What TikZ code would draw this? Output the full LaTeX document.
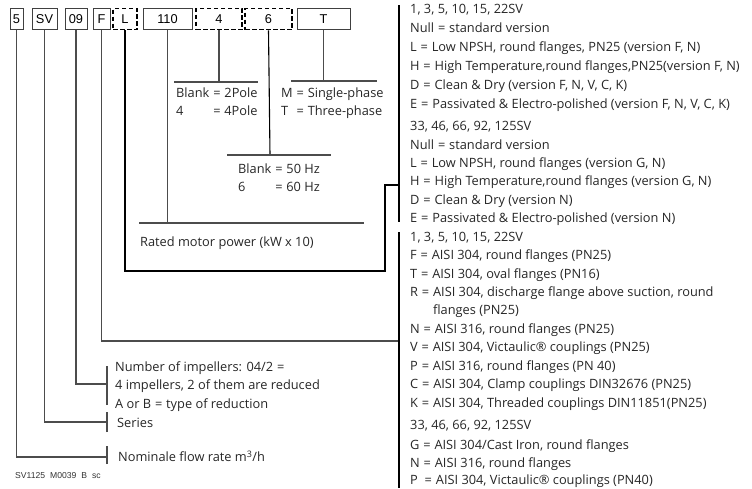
\documentclass[tikz,border=0pt]{standalone}
\usepackage{fontspec}
\setmainfont{Open Sans}
\newfontfamily\boxfont{Liberation Sans}
\newcommand{\myeq}{\hspace{0.3em}=\hspace{0.3em}}
\begin{document}
\begin{tikzpicture}[x=1pt,y=-1pt,
  cbox/.style={draw=black!75, line width=1pt, minimum height=21pt, inner sep=0pt,
    font=\boxfont\fontsize{12.8}{14}\selectfont},
  dbox/.style={cbox, draw=black, line width=1.9pt, dash pattern=on 4.5pt off 2.5pt},
  ln/.style={draw=black!70, line width=1.1pt},
  dk/.style={draw=black, line width=1.1pt},
  txt/.style={anchor=base west, inner sep=0pt, font=\fontsize{12.8}{18.3}\selectfont, text=black!85},
  code/.style={anchor=base west, inner sep=0pt, font=\boxfont\fontsize{8.6}{10}\selectfont, text=black!80},
]
\useasboundingbox (0,0) rectangle (752,488);
\clip (0,0) rectangle (752,488);
% code boxes
\node[cbox, minimum width=13pt] (b5) at (16.5,19) {5};
\node[cbox, minimum width=25pt] (bSV) at (44.5,19) {SV};
\node[cbox, minimum width=22pt] (b09) at (76,19) {09};
\node[cbox, minimum width=17pt] (bF) at (101.5,19) {F};
\node[dbox, minimum width=24pt] (bL) at (125,19) {L};
\node[cbox, minimum width=49pt] (b110) at (167.5,19) {110};
\node[dbox, minimum width=46pt] (b4) at (219,19) {4};
\node[dbox, minimum width=47pt] (b6) at (268.5,19) {6};
\node[cbox, minimum width=53pt] (bT) at (323.5,19) {T};

% anchor coordinates
\coordinate (n5) at (107,457);
\coordinate (nSV) at (107,422);
\coordinate (n09) at (107,384);
\coordinate (nF) at (399,341);
\coordinate (nL1) at (385,271);
\coordinate (nL2) at (399,185);
\coordinate (n110) at (167.5,223);
\coordinate (n4) at (219,82);
\coordinate (n6) at (270,155);
\coordinate (nT) at (323.5,81);

% connectors
\draw[ln] (b5.south) |- (n5);
\draw[ln] ([yshift=-7]n5) -- ([yshift=11]n5);
\draw[ln] (bSV.south) |- (nSV);
\draw[ln] ([yshift=-10]nSV) -- ([yshift=10]nSV);
\draw[ln] (b09.south) |- (n09);
\draw[ln] ([yshift=-21]n09) -- ([yshift=18]n09);
\draw[ln] (bF.south) |- (nF);
\draw[dk] (bL.south) |- (nL1) |- (nL2);
\draw[ln] (b110.south) -- (n110);
\draw[ln] ([xshift=-28.5]n110) -- ([xshift=196.5]n110);
\draw[ln] (b4.south) -- (n4);
\draw[ln] ([xshift=-45]n4) -- ([xshift=39]n4);
\draw[dk] (b6.south) -- (n6);
\draw[ln] ([xshift=-43]n6) -- ([xshift=61]n6);
\draw[ln] (bT.south) -- (nT);
\draw[ln] ([xshift=-32.5]nT) -- ([xshift=53.5]nT);

% right bars
\coordinate (r1a) at (399,5);
\coordinate (r1b) at (399,222);
\coordinate (r2a) at (399,232);
\coordinate (r2b) at (399,488);
\draw[dk] (r1a) -- (r1b);
\draw[dk] (r2a) -- (r2b);

% middle texts
\node[txt] (tpole) at (176,97) {\begin{tabular}[t]{@{}l@{\hspace{0.3em}}l@{}}Blank & =\hspace{0.3em}2Pole\\ 4 & =\hspace{0.3em}4Pole\end{tabular}};
\node[txt] (tphase) at (281,97) {\begin{tabular}[t]{@{}l@{\hspace{0.3em}}l@{}}M & =\hspace{0.3em}Single-phase\\ T & =\hspace{0.3em}Three-phase\end{tabular}};
\node[txt] (thz) at (238,173.5) {\begin{tabular}[t]{@{}l@{\hspace{0.3em}}l@{}}Blank & =\hspace{0.3em}50 Hz\\ 6 & =\hspace{0.3em}60 Hz\end{tabular}};
\node[txt] (tpow) at (140,246.5) {Rated motor power (kW x 10)};

% left bottom texts
\node[txt] (timp1) at (115,371.5) {Number of impellers: 04/2\myeq};
\node[txt] (timp2) at (115,389.5) {4 impellers, 2 of them are reduced};
\node[txt] (timp3) at (115,408.5) {A or B\myeq type of reduction};
\node[txt] (tser) at (117,427.5) {Series};
\node[txt] (tflow) at (118,461.5) {Nominale flow rate m\textsuperscript{3}/h};
\node[code] (tcode) at (15,478) {SV1125\hspace{5pt}M0039\hspace{5pt}B\hspace{5pt}sc};

% right texts
\node[txt] (a1) at (410,13.5) {1, 3, 5, 10, 15, 22SV};
\node[txt] (a2) at (410,32.5) {Null\myeq standard version};
\node[txt] (a3) at (410,51.5) {L\myeq Low NPSH, round flanges, PN25 (version F, N)};
\node[txt] (a4) at (410,70.5) {H\myeq High Temperature,round flanges,PN25(version F, N)};
\node[txt] (a5) at (410,89.5) {D\myeq Clean \& Dry (version F, N, V, C, K)};
\node[txt] (a6) at (410,108.5) {E\myeq Passivated \& Electro-polished (version F, N, V, C, K)};

\node[txt] (c1) at (410,130.5) {33, 46, 66, 92, 125SV};
\node[txt] (c2) at (410,149.5) {Null\myeq standard version};
\node[txt] (c3) at (410,167.5) {L\myeq Low NPSH, round flanges (version G, N)};
\node[txt] (c4) at (410,185.5) {H\myeq High Temperature,round flanges (version G, N)};
\node[txt] (c5) at (410,204.5) {D\myeq Clean \& Dry (version N)};
\node[txt] (c6) at (410,222.5) {E\myeq Passivated \& Electro-polished (version N)};

\node[txt] (d1) at (410,241.5) {1, 3, 5, 10, 15, 22SV};
\node[txt] (d2) at (410,259.5) {F\myeq AISI 304, round flanges (PN25)};
\node[txt] (d3) at (410,278.5) {T\myeq AISI 304, oval flanges (PN16)};
\node[txt] (d4) at (410,296.5) {R\myeq AISI 304, discharge flange above suction, round};
\node[txt] (d5) at (410,314.5) {\phantom{R\myeq}flanges (PN25)};
\node[txt] (d6) at (410,333.5) {N\myeq AISI 316, round flanges (PN25)};
\node[txt] (d7) at (410,351.5) {V\myeq AISI 304, Victaulic® couplings (PN25)};
\node[txt] (d8) at (410,370.5) {P\myeq AISI 316, round flanges (PN 40)};
\node[txt] (d9) at (410,388.5) {C\myeq AISI 304, Clamp couplings DIN32676 (PN25)};
\node[txt] (d10) at (410,407.5) {K\myeq AISI 304, Threaded couplings DIN11851(PN25)};

\node[txt] (e1) at (410,429.5) {33, 46, 66, 92, 125SV};
\node[txt] (e2) at (410,449) {G\myeq AISI 304/Cast Iron, round flanges};
\node[txt] (e3) at (410,467) {N\myeq AISI 316, round flanges};
\node[txt] (e4) at (410,484.3) {P\hspace{3pt}\myeq AISI 304, Victaulic® couplings (PN40)};
\end{tikzpicture}
\end{document}
